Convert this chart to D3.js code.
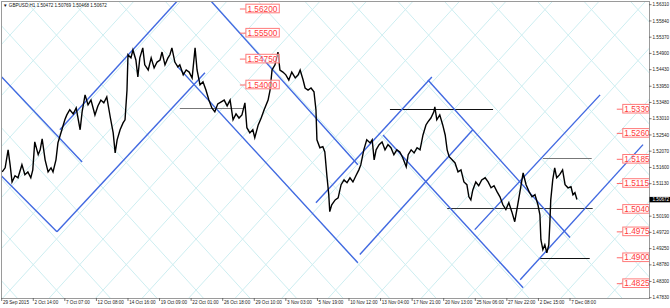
<!DOCTYPE html>
<html>
<head>
<meta charset="utf-8">
<script src="https://cdn.jsdelivr.net/npm/d3@7"></script>
<style>
  body { margin: 0; background: #fff; }
  svg { display: block; }
</style>
</head>
<body>
<div id="chart"></div>
<script>
// GBPUSD H1 - barras (índice) e preços
const bars = [1,7,13,17,21,27,33,41,47,53,59,63,67,74,78,82,88,94,100,104,110,114,122,128,132,138,145,151,159,163,169,175,181,189,195,201,207,213,220,226,230,234,240,246,250,254,256,262,266,272,276,280,286,290,297,303,309,315,321,325,331,337,341,345,351,357,361,368,374,380,386,392,396,402,408,414,420,426,432,438,445,451,457,463,469,475,481,487,493,497,503,509,513,520,526,532,540,544,548,554,560,564,570,576,582,588,595,601,605,611,615,621,627,633,637,639,645,651,655,659,663,665,669,676,682,688,694,700,706,712,718,724,728,734,740,747,751,755,759,765,771,777,783,789,795,801,807,813,820,824,830,836,842,848,854,860,864,870,876,878,882,888,894,899,903,907,913,919,925,931,937,943,947,951,955,961,967,973,980,986,992,998,1004,1010,1016,1022,1028,1034,1040,1046,1053,1057,1063,1069,1075,1081,1087,1091,1093,1097,1101,1105,1109,1111,1113,1117,1121,1125,1131,1137,1142,1148,1154,1158,1162,1166];
const prices = [1.5147,1.5159,1.5211,1.5168,1.5118,1.5136,1.5130,1.5168,1.5139,1.5147,1.5130,1.5153,1.5234,1.5197,1.5211,1.5243,1.5182,1.5147,1.5159,1.5147,1.5182,1.5231,1.5269,1.5298,1.5312,1.5327,1.5315,1.5332,1.5269,1.5321,1.5370,1.5341,1.5355,1.5312,1.5338,1.5355,1.5347,1.5364,1.5306,1.5260,1.5202,1.5240,1.5269,1.5289,1.5298,1.5384,1.5486,1.5477,1.5500,1.5471,1.5422,1.5477,1.5506,1.5457,1.5442,1.5477,1.5448,1.5465,1.5471,1.5494,1.5457,1.5477,1.5486,1.5506,1.5465,1.5451,1.5457,1.5428,1.5442,1.5436,1.5419,1.5506,1.5442,1.5399,1.5408,1.5384,1.5355,1.5332,1.5321,1.5344,1.5350,1.5355,1.5338,1.5355,1.5298,1.5315,1.5303,1.5312,1.5347,1.5275,1.5260,1.5269,1.5246,1.5283,1.5303,1.5327,1.5355,1.5384,1.5442,1.5457,1.5494,1.5442,1.5436,1.5428,1.5413,1.5436,1.5419,1.5428,1.5442,1.5413,1.5390,1.5384,1.5390,1.5379,1.5327,1.5240,1.5217,1.5220,1.5205,1.5139,1.5081,1.5032,1.5052,1.5066,1.5072,1.5110,1.5124,1.5116,1.5130,1.5118,1.5136,1.5153,1.5168,1.5211,1.5240,1.5231,1.5240,1.5182,1.5211,1.5226,1.5234,1.5211,1.5226,1.5217,1.5197,1.5211,1.5205,1.5188,1.5162,1.5197,1.5211,1.5202,1.5217,1.5211,1.5254,1.5283,1.5292,1.5303,1.5321,1.5335,1.5298,1.5312,1.5283,1.5254,1.5211,1.5191,1.5182,1.5173,1.5147,1.5153,1.5118,1.5110,1.5075,1.5066,1.5095,1.5118,1.5107,1.5124,1.5130,1.5118,1.5101,1.5107,1.5090,1.5075,1.5052,1.5038,1.5058,1.5032,1.5003,1.5052,1.5110,1.5144,1.5110,1.5090,1.5075,1.5081,1.5052,1.5023,1.4951,1.4922,1.4936,1.4913,1.4936,1.4994,1.5066,1.5124,1.5159,1.5130,1.5139,1.5153,1.5110,1.5101,1.5104,1.5081,1.5087,1.50672];

const timeLabels = ["29 Sep 2015","2 Oct 14:00","7 Oct 07:00","12 Oct 08:00","14 Oct 16:00","19 Oct 09:00","22 Oct 01:00","26 Oct 18:00","29 Oct 10:00","3 Nov 03:00","5 Nov 19:00","10 Nov 12:00","13 Nov 04:00","17 Nov 21:00","20 Nov 13:00","25 Nov 06:00","27 Nov 22:00","2 Dec 15:00","7 Dec 08:00"];
const barsPerLabel = 64;
const priceTicks = [1.56310,1.55840,1.55370,1.54900,1.54430,1.53950,1.53480,1.53010,1.52540,1.52070,1.51600,1.51130,1.50190,1.49720,1.49250,1.48780,1.48300,1.47830];
const lastPrice = 1.50672;
const header = "GBPUSD,H1  1.50472 1.50769 1.50468 1.50672";

// níveis marcados (etiquetas vermelhas)
const leftLevels = [1.56200, 1.55500, 1.54750, 1.54000];
const rightLevels = [1.5330, 1.5260, 1.5185, 1.5115, 1.5040, 1.4975, 1.4900, 1.4825];

// linhas de canal azuis: [barra0, preço0, barra1, preço1]
const channels = [
  [-4, 1.5428, 163, 1.5176],
  [-3, 1.5139, 112, 1.4974],
  [112, 1.4974, 412, 1.5434],
  [118, 1.5269, 358, 1.5645],
  [422, 1.5645, 722, 1.5168],
  [357, 1.5451, 722, 1.4884],
  [637, 1.5058, 872, 1.5422],
  [864, 1.5413, 1152, 1.4957],
  [773, 1.5254, 1057, 1.4812],
  [726, 1.4908, 955, 1.5269],
  [959, 1.4980, 1213, 1.5370],
  [1051, 1.4835, 1300, 1.5226]
];
// linhas horizontais: [barra0, barra1, preço, cor]
const hLines = [
  [361, 489, 1.5332, "#777"],
  [787, 996, 1.5329, "#111"],
  [1097, 1196, 1.5188, "#777"],
  [903, 1198, 1.5043, "#333"],
  [1091, 1192, 1.4899, "#111"]
];

const width = 670, height = 308;
const plot = { left: 1, right: 649, top: 1, bottom: 298 };

const x = d3.scaleLinear().domain([0, barsPerLabel * 18]).range([1.7, 570]);
const y = d3.scaleLinear().domain([1.4783, 1.5631]).range([297.7, 4.7]);

const svg = d3.select("#chart").append("svg")
  .attr("width", width).attr("height", height)
  .style("font-family", "'Liberation Sans', Arial, sans-serif");

svg.append("defs").append("clipPath").attr("id", "plotClip")
  .append("rect")
  .attr("x", plot.left).attr("y", plot.top)
  .attr("width", plot.right - plot.left).attr("height", plot.bottom - plot.top);

const g = svg.append("g").attr("clip-path", "url(#plotClip)");

// grade de Gann (losangos ciano claros)
const gann = { bar: 16.8, price: 1.5543, cellBars: 94.3, cellPrice: 0.01476 };
const gannLines = [];
for (let n = -20; n <= 30; n++) {
  const b0 = gann.bar + n * gann.cellBars;
  [-1, 1].forEach(dir => {
    gannLines.push([
      [b0 - 20 * gann.cellBars / 2, gann.price + dir * 20 * gann.cellPrice / 2],
      [b0 + 20 * gann.cellBars / 2, gann.price - dir * 20 * gann.cellPrice / 2]
    ]);
  });
}
g.append("g").selectAll("line").data(gannLines).enter().append("line")
  .attr("x1", d => x(d[0][0])).attr("y1", d => y(d[0][1]))
  .attr("x2", d => x(d[1][0])).attr("y2", d => y(d[1][1]))
  .attr("stroke", "#cdeef1").attr("stroke-width", 1);

// linhas horizontais
g.append("g").selectAll("line").data(hLines).enter().append("line")
  .attr("x1", d => x(d[0])).attr("x2", d => x(d[1]))
  .attr("y1", d => Math.round(y(d[2])) + 0.5).attr("y2", d => Math.round(y(d[2])) + 0.5)
  .attr("stroke", d => d[3]).attr("stroke-width", 1.2);

// canais azuis
g.append("g").selectAll("line").data(channels).enter().append("line")
  .attr("x1", d => x(d[0])).attr("y1", d => y(d[1]))
  .attr("x2", d => x(d[2])).attr("y2", d => y(d[3]))
  .attr("stroke", "#4169e1").attr("stroke-width", 1.4);

// preço
const line = d3.line().x((d, i) => x(bars[i])).y(d => y(d));
g.append("path").datum(prices)
  .attr("d", line)
  .attr("fill", "none").attr("stroke", "#000").attr("stroke-width", 1.4)
  .attr("stroke-linejoin", "miter");

// etiquetas de preço vermelhas
function priceLabels(levels, bar, digits) {
  const lg = g.append("g");
  const item = lg.selectAll("g").data(levels).enter().append("g")
    .attr("transform", d => `translate(${x(bar)},${y(d)})`);
  item.append("line").attr("x1", -6).attr("x2", 0).attr("y1", 0.5).attr("y2", 0.5)
    .attr("stroke", "#ff6a6a").attr("stroke-width", 1);
  item.append("text")
    .attr("x", 1.5).attr("dy", "0.36em")
    .attr("font-size", 8.3).attr("fill", "#ff3b3b")
    .text(d => d.toFixed(digits));
  item.each(function() {
    const t = d3.select(this).select("text").node().getBBox();
    d3.select(this).insert("rect", "text")
      .attr("x", 0).attr("y", -4.3).attr("width", t.width + 3).attr("height", 8.6)
      .attr("fill", "#fff").attr("fill-opacity", 0.6)
      .attr("stroke", "#ff7b7b").attr("stroke-width", 1);
  });
}
priceLabels(leftLevels, 495, 5);
priceLabels(rightLevels, 1259, 4);

// moldura
svg.append("rect").attr("x", plot.left + 0.5).attr("y", plot.top + 0.5)
  .attr("width", plot.right - plot.left).attr("height", plot.bottom - plot.top)
  .attr("fill", "none").attr("stroke", "#9a9a9a").attr("stroke-width", 1);

// eixo direito
const yAxis = svg.append("g");
yAxis.selectAll("line").data(priceTicks).enter().append("line")
  .attr("x1", plot.right).attr("x2", plot.right + 2.5)
  .attr("y1", d => y(d)).attr("y2", d => y(d))
  .attr("stroke", "#555").attr("stroke-width", 0.8);
yAxis.selectAll("text").data(priceTicks).enter().append("text")
  .attr("x", plot.right + 3.5).attr("y", d => y(d)).attr("dy", "0.35em")
  .attr("font-size", 4.6).attr("fill", "#222")
  .text(d => d.toFixed(5));

// preço actual
svg.append("rect").attr("x", plot.right + 0.5).attr("y", y(lastPrice) - 2.6)
  .attr("width", width - plot.right).attr("height", 5.4).attr("fill", "#000");
svg.append("text").attr("x", plot.right + 3.5).attr("y", y(lastPrice)).attr("dy", "0.35em")
  .attr("font-size", 4.6).attr("fill", "#fff").text(lastPrice.toFixed(5));

// eixo do tempo
const xAxis = svg.append("g");
xAxis.selectAll("line").data(timeLabels).enter().append("line")
  .attr("x1", (d, i) => x(i * barsPerLabel)).attr("x2", (d, i) => x(i * barsPerLabel))
  .attr("y1", plot.bottom).attr("y2", plot.bottom + 3)
  .attr("stroke", "#555").attr("stroke-width", 0.8);
xAxis.selectAll("text").data(timeLabels).enter().append("text")
  .attr("x", (d, i) => x(i * barsPerLabel) + 1.2).attr("y", 304)
  .attr("font-size", 4.6).attr("fill", "#222")
  .text(d => d);

// cabeçalho
svg.append("text").attr("x", 3).attr("y", 7)
  .attr("font-size", 4.6).attr("fill", "#111")
  .text("\u25BC " + header);
</script>
</body>
</html>
